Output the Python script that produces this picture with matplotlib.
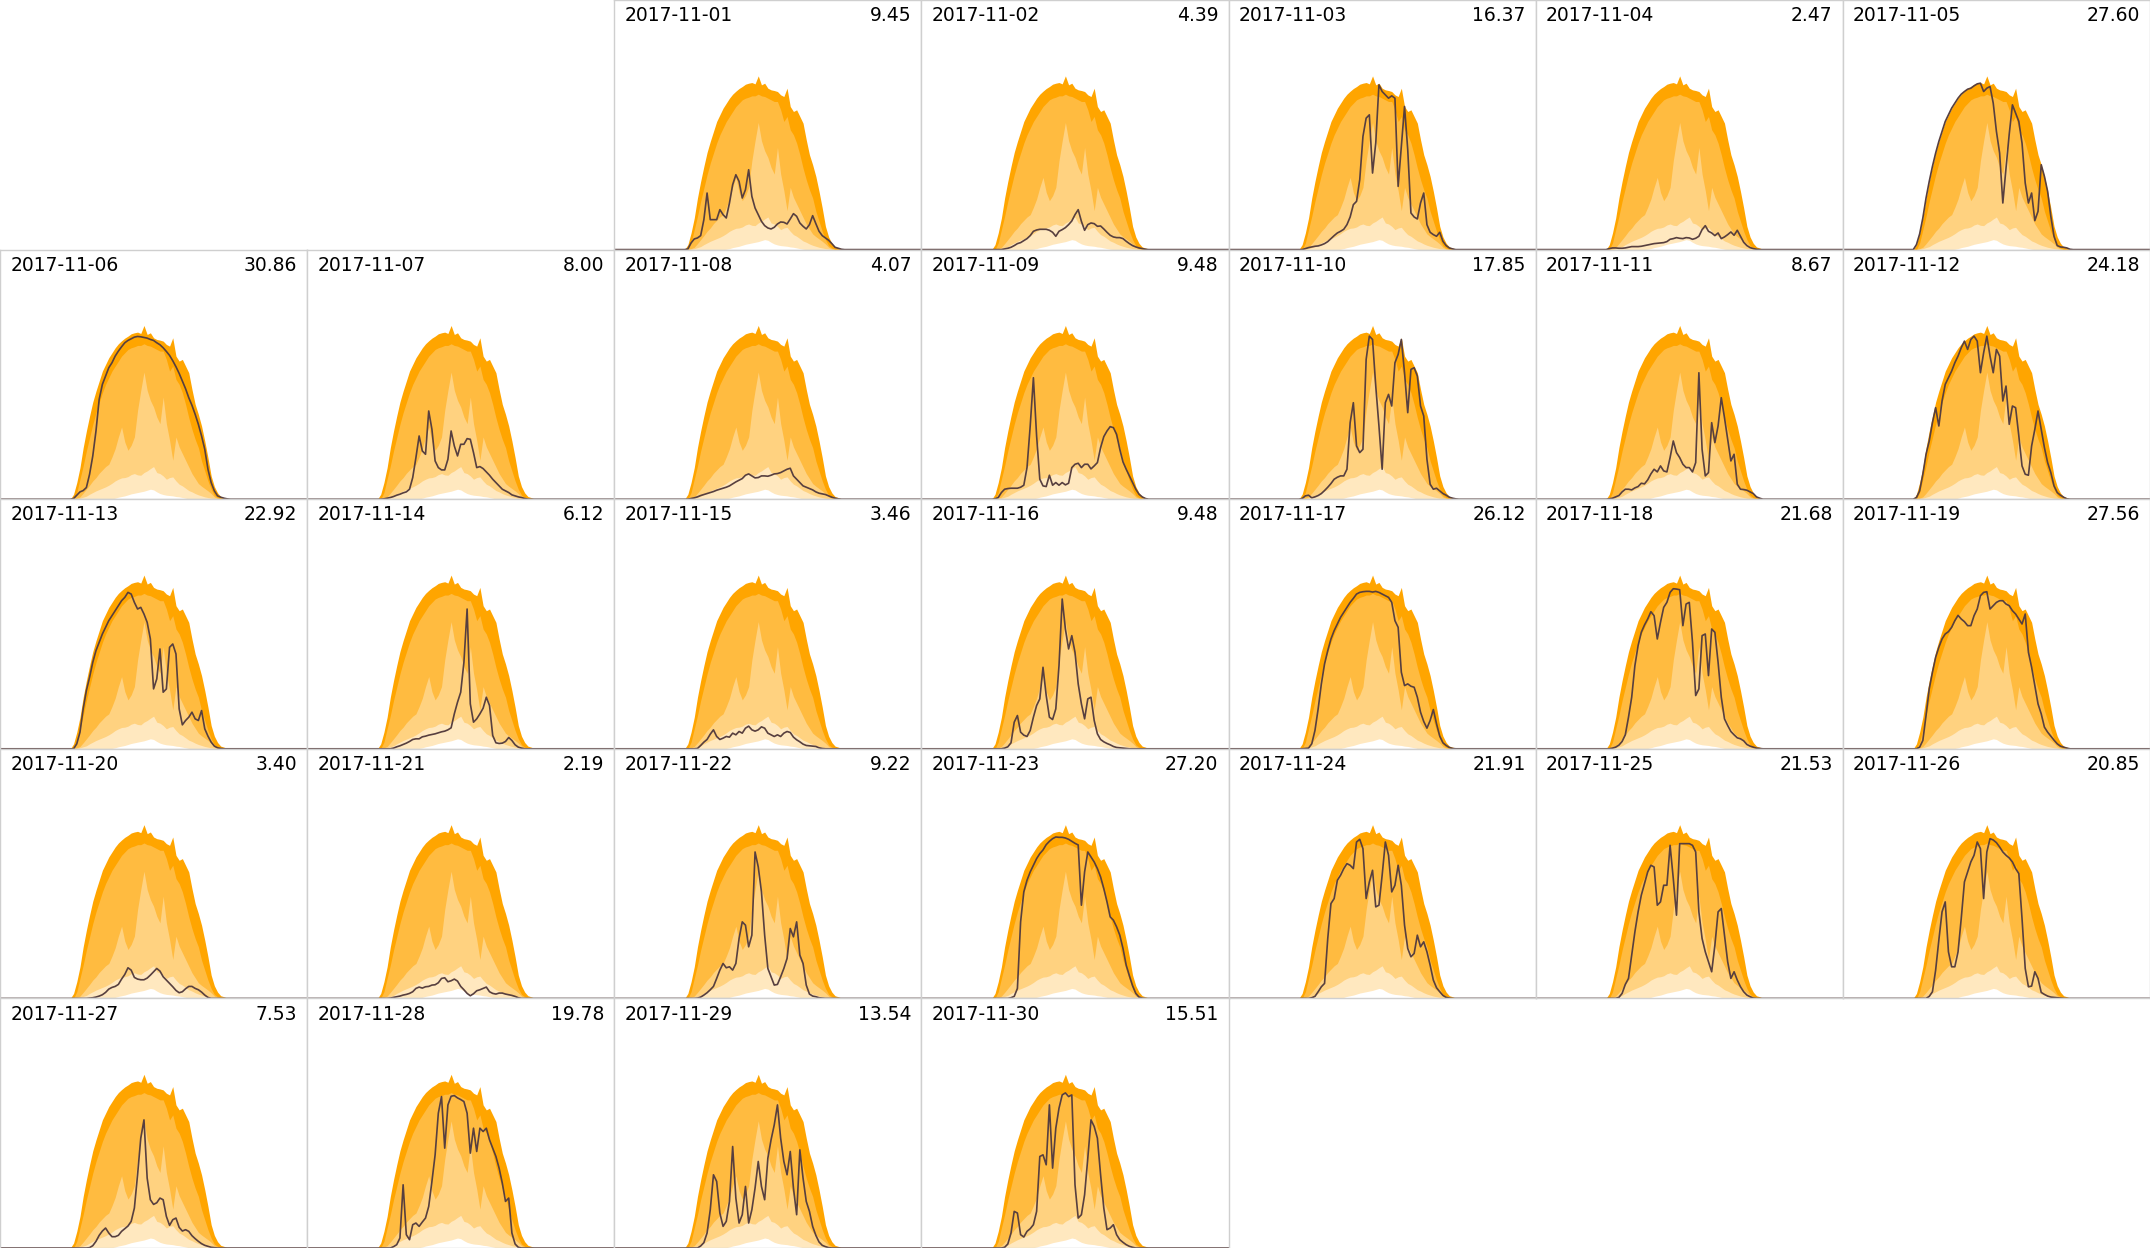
import datetime as dt
import numpy as np
import matplotlib
matplotlib.use("Agg")
import matplotlib.pyplot as plt

# sample times (hour of day) for the profiles, 15 min apart
hours = np.arange(5.5, 18.01, 0.25)

# envelope of all November days (kW): max and quantiles
band_max = [0, 0.15, 0.50, 0.95, 1.55, 2.05, 2.50, 2.92, 3.25, 3.55, 3.85, 4.05,
            4.25, 4.40, 4.55, 4.67, 4.76, 4.84, 4.90, 4.97, 5.00, 5.02, 4.98, 5.22,
            4.95, 5.00, 4.85, 4.80, 4.78, 4.75, 4.65, 4.60, 4.85, 4.30, 4.15, 4.20,
            4.00, 3.80, 3.30, 2.85, 2.55, 2.20, 1.75, 1.25, 0.70, 0.38, 0.19, 0.08,
            0.05, 0.01, 0]
band_q75 = [0, 0, 0.20, 0.60, 1.00, 1.45, 1.85, 2.25, 2.60, 2.90, 3.20, 3.45,
            3.65, 3.85, 4.00, 4.15, 4.30, 4.40, 4.50, 4.55, 4.58, 4.62, 4.62, 4.67,
            4.62, 4.60, 4.55, 4.50, 4.45, 4.45, 4.20, 3.85, 4.00, 3.60, 3.45, 3.20,
            2.85, 2.45, 2.10, 1.80, 1.55, 1.15, 0.85, 0.55, 0.30, 0.12, 0.05, 0,
            0, 0, 0]
band_q50 = [0, 0, 0.03, 0.07, 0.18, 0.30, 0.42, 0.55, 0.65, 0.78, 0.88, 0.98,
            1.05, 1.27, 1.52, 1.87, 2.17, 1.72, 1.47, 1.62, 1.87, 2.67, 3.27, 3.82,
            3.27, 2.97, 2.77, 2.47, 2.27, 3.07, 2.27, 1.77, 1.17, 1.87, 1.57, 1.37,
            1.17, 0.97, 0.77, 0.62, 0.47, 0.39, 0.32, 0.25, 0.17, 0.07, 0.02, 0,
            0, 0, 0]
band_q25 = [0, 0, 0.01, 0.03, 0.06, 0.09, 0.15, 0.20, 0.25, 0.29, 0.33, 0.37,
            0.42, 0.48, 0.55, 0.60, 0.64, 0.65, 0.68, 0.74, 0.77, 0.73, 0.72, 0.80,
            0.85, 0.92, 0.98, 0.80, 0.77, 0.70, 0.60, 0.65, 0.67, 0.55, 0.45, 0.40,
            0.33, 0.26, 0.22, 0.17, 0.13, 0.10, 0.07, 0.05, 0.03, 0.02, 0, 0,
            0, 0, 0]
band_q05 = [0, 0, 0, 0, 0, 0, 0, 0, 0, 0, 0, 0,
            0, 0.01, 0.03, 0.06, 0.08, 0.10, 0.13, 0.16, 0.18, 0.20, 0.22, 0.24,
            0.27, 0.30, 0.28, 0.22, 0.17, 0.14, 0.12, 0.11, 0.10, 0.08, 0.07, 0.05,
            0.03, 0.01, 0, 0, 0, 0, 0, 0, 0, 0, 0, 0,
            0, 0, 0]

# daily production profiles (kW)
nov01 = [0, 0.02, 0.20, 0.32, 0.35, 0.42, 0.90, 1.70, 0.90, 0.90, 0.90, 1.20,
         1.05, 0.95, 1.40, 1.95, 2.25, 2.05, 1.55, 1.80, 2.40, 1.60, 1.25, 1.05,
         0.85, 0.72, 0.65, 0.62, 0.67, 0.77, 0.83, 0.82, 0.77, 0.92, 1.08, 1.00,
         0.80, 0.70, 0.62, 0.75, 1.02, 0.78, 0.55, 0.42, 0.35, 0.28, 0.18, 0.07,
         0.04, 0.01, 0]
nov02 = [0, 0, 0, 0, 0.02, 0.04, 0.07, 0.12, 0.18, 0.21, 0.27, 0.33,
         0.42, 0.55, 0.59, 0.61, 0.61, 0.61, 0.58, 0.52, 0.40, 0.55, 0.60, 0.66,
         0.75, 0.86, 1.05, 1.20, 0.85, 0.58, 0.75, 0.80, 0.78, 0.70, 0.71, 0.62,
         0.52, 0.43, 0.38, 0.36, 0.36, 0.33, 0.25, 0.18, 0.12, 0.08, 0.05, 0.03,
         0.01, 0, 0]
nov03 = [0, 0, 0.03, 0.06, 0.08, 0.10, 0.11, 0.14, 0.18, 0.24, 0.33, 0.42,
         0.50, 0.55, 0.61, 0.75, 0.98, 1.35, 1.45, 2.10, 3.40, 3.95, 4.05, 2.30,
         3.20, 4.95, 4.75, 4.65, 4.55, 4.62, 4.55, 1.90, 3.10, 4.30, 3.00, 1.10,
         0.98, 0.92, 1.40, 1.70, 0.75, 0.52, 0.45, 0.40, 0.52, 0.25, 0.12, 0.05,
         0.02, 0, 0]
nov04 = [0, 0.03, 0.05, 0.05, 0.04, 0.04, 0.05, 0.07, 0.09, 0.09, 0.09, 0.10,
         0.12, 0.14, 0.16, 0.18, 0.19, 0.20, 0.21, 0.24, 0.31, 0.33, 0.36, 0.34,
         0.33, 0.36, 0.35, 0.31, 0.34, 0.40, 0.60, 0.72, 0.55, 0.50, 0.42, 0.50,
         0.33, 0.38, 0.45, 0.53, 0.43, 0.58, 0.40, 0.22, 0.12, 0.06, 0.03, 0.01,
         0, 0, 0]
nov05 = [0, 0.15, 0.47, 0.95, 1.55, 2.05, 2.50, 2.90, 3.25, 3.55, 3.85, 4.05,
         4.25, 4.40, 4.55, 4.67, 4.75, 4.82, 4.85, 4.92, 4.98, 5.00, 4.75, 4.85,
         4.90, 4.40, 3.55, 2.90, 1.40, 2.45, 3.47, 4.35, 4.10, 3.85, 3.20, 2.00,
         1.40, 1.70, 0.87, 1.15, 2.55, 2.20, 1.75, 1.00, 0.40, 0.12, 0.08, 0.07,
         0.05, 0.01, 0]
nov06 = [0, 0.02, 0.12, 0.22, 0.26, 0.35, 0.75, 1.30, 2.05, 3.00, 3.45, 3.70,
         3.95, 4.10, 4.30, 4.45, 4.58, 4.70, 4.77, 4.82, 4.87, 4.89, 4.88, 4.86,
         4.84, 4.80, 4.77, 4.70, 4.64, 4.55, 4.44, 4.32, 4.16, 3.98, 3.78, 3.55,
         3.32, 3.05, 2.82, 2.55, 2.25, 1.90, 1.50, 0.90, 0.50, 0.25, 0.10, 0.06,
         0.03, 0.01, 0]
nov07 = [0, 0, 0.01, 0.03, 0.05, 0.08, 0.12, 0.15, 0.19, 0.22, 0.30, 0.65,
         1.25, 1.90, 1.45, 1.35, 2.65, 2.10, 1.15, 0.95, 0.88, 0.88, 1.20, 2.05,
         1.60, 1.30, 1.65, 1.65, 1.82, 1.80, 1.40, 0.95, 0.98, 0.92, 0.82, 0.72,
         0.60, 0.50, 0.40, 0.30, 0.25, 0.20, 0.13, 0.10, 0.07, 0.05, 0.02, 0,
         0, 0, 0]
nov08 = [0, 0, 0.02, 0.04, 0.07, 0.11, 0.14, 0.17, 0.20, 0.23, 0.27, 0.30,
         0.33, 0.36, 0.40, 0.46, 0.52, 0.57, 0.62, 0.72, 0.76, 0.70, 0.64, 0.65,
         0.70, 0.70, 0.69, 0.72, 0.76, 0.77, 0.80, 0.85, 0.90, 0.93, 0.70, 0.60,
         0.50, 0.40, 0.36, 0.32, 0.28, 0.22, 0.18, 0.16, 0.14, 0.10, 0.06, 0.03,
         0.01, 0, 0]
nov09 = [0, 0.01, 0.05, 0.20, 0.30, 0.32, 0.33, 0.33, 0.33, 0.36, 0.42, 0.95,
         2.20, 3.65, 1.90, 0.60, 0.40, 0.38, 0.72, 0.42, 0.50, 0.42, 0.50, 0.43,
         0.48, 0.95, 1.05, 1.08, 0.95, 1.05, 1.05, 0.91, 1.00, 1.10, 1.55, 1.88,
         2.05, 2.18, 2.15, 1.95, 1.50, 1.12, 0.90, 0.70, 0.50, 0.30, 0.15, 0.07,
         0.02, 0, 0]
nov10 = [0, 0.02, 0.10, 0.12, 0.04, 0.07, 0.11, 0.17, 0.26, 0.36, 0.47, 0.60,
         0.66, 0.70, 0.70, 0.90, 2.30, 2.90, 1.60, 1.40, 1.50, 4.20, 4.90, 4.80,
         3.40, 2.20, 0.90, 2.90, 3.15, 2.80, 4.10, 4.35, 4.80, 3.80, 2.60, 3.90,
         3.95, 3.70, 2.80, 2.50, 1.20, 0.45, 0.30, 0.33, 0.25, 0.17, 0.12, 0.06,
         0.03, 0.01, 0]
nov11 = [0, 0.01, 0.03, 0.07, 0.11, 0.22, 0.30, 0.30, 0.28, 0.34, 0.38, 0.48,
         0.46, 0.58, 0.76, 0.90, 0.82, 1.00, 0.85, 0.82, 1.25, 1.75, 1.40, 1.25,
         1.05, 0.95, 0.95, 0.82, 1.10, 3.80, 1.50, 0.70, 0.80, 2.30, 1.70, 2.20,
         3.05, 2.45, 1.80, 1.15, 1.35, 0.45, 0.30, 0.29, 0.27, 0.22, 0.17, 0.07,
         0.03, 0, 0]
nov12 = [0, 0.05, 0.25, 0.75, 1.35, 1.75, 2.30, 2.75, 2.20, 2.95, 3.45, 3.65,
         3.85, 4.10, 4.30, 4.55, 4.75, 4.50, 4.80, 4.90, 4.75, 3.80, 4.40, 4.90,
         4.30, 3.80, 4.50, 4.30, 2.95, 3.40, 2.25, 2.80, 2.75, 1.90, 1.00, 0.75,
         0.72, 1.60, 2.10, 2.65, 2.10, 1.55, 1.10, 0.80, 0.40, 0.20, 0.12, 0.06,
         0.01, 0, 0]
nov13 = [0, 0, 0.15, 0.50, 1.20, 1.75, 2.15, 2.60, 2.95, 3.20, 3.45, 3.65,
         3.85, 4.00, 4.15, 4.30, 4.45, 4.55, 4.70, 4.65, 4.40, 4.20, 4.25, 4.05,
         3.80, 3.30, 1.80, 2.10, 3.00, 1.70, 1.80, 3.05, 3.15, 2.85, 1.20, 0.72,
         0.85, 0.95, 1.10, 0.90, 0.85, 1.15, 0.60, 0.38, 0.20, 0.08, 0.03, 0.01,
         0, 0, 0]
nov14 = [0, 0, 0, 0, 0, 0.02, 0.06, 0.09, 0.13, 0.17, 0.22, 0.28,
         0.30, 0.30, 0.36, 0.38, 0.41, 0.43, 0.45, 0.48, 0.51, 0.53, 0.57, 0.63,
         1.05, 1.40, 1.70, 2.60, 4.20, 1.35, 0.80, 0.90, 1.05, 1.22, 1.55, 1.30,
         0.40, 0.18, 0.16, 0.17, 0.22, 0.34, 0.25, 0.12, 0.05, 0.02, 0, 0,
         0, 0, 0]
nov15 = [0, 0, 0, 0, 0.01, 0.10, 0.20, 0.28, 0.44, 0.57, 0.37, 0.28,
         0.32, 0.37, 0.35, 0.47, 0.42, 0.52, 0.47, 0.62, 0.68, 0.57, 0.53, 0.57,
         0.66, 0.62, 0.47, 0.42, 0.37, 0.42, 0.37, 0.47, 0.52, 0.49, 0.35, 0.27,
         0.21, 0.14, 0.10, 0.09, 0.08, 0.07, 0.03, 0.01, 0, 0, 0, 0,
         0, 0, 0]
nov16 = [0, 0, 0, 0, 0.02, 0.06, 0.18, 0.80, 1.00, 0.50, 0.41, 0.37,
         0.55, 0.95, 1.30, 1.50, 2.45, 1.60, 0.95, 0.88, 1.20, 2.50, 4.50, 3.60,
         3.00, 3.40, 2.90, 1.95, 1.35, 0.90, 1.50, 1.55, 0.85, 0.45, 0.28, 0.21,
         0.16, 0.12, 0.07, 0.04, 0.03, 0.02, 0.01, 0, 0, 0, 0, 0,
         0, 0, 0]
nov17 = [0, 0, 0.01, 0.02, 0.15, 0.55, 1.20, 1.95, 2.55, 2.95, 3.30, 3.55,
         3.75, 3.95, 4.10, 4.25, 4.40, 4.52, 4.65, 4.70, 4.72, 4.73, 4.73, 4.71,
         4.73, 4.70, 4.65, 4.60, 4.55, 4.40, 3.85, 3.65, 2.30, 1.90, 1.95, 1.88,
         1.85, 1.55, 1.10, 0.82, 0.62, 0.85, 1.18, 0.75, 0.38, 0.18, 0.10, 0.04,
         0.01, 0, 0]
nov18 = [0, 0, 0.02, 0.05, 0.11, 0.22, 0.42, 0.95, 1.55, 2.50, 3.10, 3.50,
         3.72, 3.90, 4.12, 4.00, 3.30, 3.80, 4.25, 4.40, 4.70, 4.81, 4.80, 4.78,
         3.70, 4.35, 4.40, 3.20, 1.60, 1.80, 3.40, 3.45, 2.20, 3.60, 3.50, 2.60,
         1.55, 0.90, 0.70, 0.52, 0.42, 0.33, 0.30, 0.24, 0.13, 0.08, 0.05, 0.02,
         0.01, 0, 0]
nov19 = [0, 0, 0.05, 0.25, 1.00, 1.80, 2.30, 2.75, 3.05, 3.30, 3.45, 3.52,
         3.65, 3.85, 4.01, 3.90, 3.82, 3.70, 3.70, 4.00, 4.20, 4.60, 4.70, 4.72,
         4.20, 4.30, 4.40, 4.45, 4.45, 4.35, 4.30, 4.15, 4.05, 3.90, 3.75, 4.05,
         2.90, 2.45, 1.90, 1.35, 1.05, 0.65, 0.50, 0.38, 0.26, 0.15, 0.08, 0.05,
         0.02, 0, 0]
nov20 = [0, 0, 0, 0, 0, 0, 0.01, 0.02, 0.04, 0.07, 0.11, 0.18,
         0.28, 0.33, 0.36, 0.42, 0.58, 0.72, 0.92, 0.85, 0.63, 0.58, 0.56, 0.56,
         0.61, 0.70, 0.80, 0.90, 0.82, 0.65, 0.55, 0.45, 0.35, 0.24, 0.17, 0.20,
         0.29, 0.36, 0.36, 0.30, 0.26, 0.19, 0.10, 0.03, 0, 0, 0, 0,
         0, 0, 0]
nov21 = [0, 0, 0, 0, 0.01, 0.03, 0.05, 0.07, 0.10, 0.12, 0.15, 0.20,
         0.30, 0.34, 0.31, 0.35, 0.36, 0.40, 0.41, 0.47, 0.60, 0.62, 0.50, 0.53,
         0.58, 0.52, 0.36, 0.26, 0.15, 0.08, 0.14, 0.23, 0.26, 0.30, 0.34, 0.20,
         0.15, 0.13, 0.16, 0.16, 0.13, 0.11, 0.09, 0.06, 0.02, 0, 0, 0,
         0, 0, 0]
nov22 = [0, 0, 0, 0, 0.01, 0.04, 0.10, 0.17, 0.26, 0.36, 0.60, 0.85,
         1.05, 0.92, 0.95, 0.85, 1.05, 1.80, 2.30, 2.20, 1.55, 1.90, 4.40, 3.95,
         3.20, 1.90, 0.90, 0.65, 0.40, 0.42, 0.65, 0.90, 1.20, 2.10, 1.85, 2.30,
         1.30, 1.05, 0.40, 0.13, 0.07, 0.05, 0.02, 0.01, 0, 0, 0, 0,
         0, 0, 0]
nov23 = [0, 0, 0, 0, 0, 0, 0.02, 0.06, 0.30, 2.30, 3.20, 3.55,
         3.80, 4.00, 4.20, 4.35, 4.46, 4.62, 4.72, 4.80, 4.85, 4.84, 4.84, 4.82,
         4.78, 4.72, 4.66, 4.61, 2.80, 3.80, 4.40, 4.25, 4.10, 3.90, 3.65, 3.30,
         2.90, 2.45, 2.35, 2.15, 1.90, 1.50, 1.00, 0.68, 0.38, 0.15, 0.04, 0.01,
         0, 0, 0]
nov24 = [0, 0, 0, 0, 0.02, 0.06, 0.20, 0.35, 0.45, 1.80, 2.85, 3.00,
         3.55, 3.70, 3.90, 4.05, 4.00, 3.90, 4.70, 4.78, 4.50, 3.00, 3.50, 3.85,
         2.75, 2.80, 3.70, 4.70, 4.30, 3.20, 3.40, 4.00, 3.40, 2.20, 1.50, 1.25,
         1.35, 1.90, 1.55, 1.70, 1.40, 1.00, 0.55, 0.32, 0.20, 0.09, 0.03, 0.01,
         0, 0, 0]
nov25 = [0, 0, 0, 0, 0.03, 0.15, 0.42, 0.60, 1.30, 2.00, 2.60, 3.10,
         3.45, 3.80, 4.00, 3.95, 2.80, 2.90, 3.40, 3.40, 4.60, 3.60, 2.50, 4.65,
         4.65, 4.65, 4.65, 4.60, 4.40, 2.60, 1.80, 1.40, 1.10, 0.80, 1.60, 2.60,
         2.70, 1.90, 1.10, 0.60, 0.80, 0.55, 0.35, 0.20, 0.10, 0.05, 0.01, 0,
         0, 0, 0]
nov26 = [0, 0, 0, 0, 0, 0.06, 0.20, 0.85, 1.75, 2.60, 2.90, 1.40,
         0.95, 0.95, 1.40, 2.40, 3.50, 3.80, 4.10, 4.30, 4.70, 4.50, 3.00, 4.40,
         4.80, 4.76, 4.68, 4.55, 4.40, 4.30, 4.22, 4.10, 3.90, 3.75, 2.40, 0.90,
         0.35, 0.37, 0.80, 0.60, 0.18, 0.12, 0.07, 0.04, 0.03, 0.02, 0.01, 0,
         0, 0, 0]
nov27 = [0, 0, 0, 0, 0, 0, 0.01, 0.07, 0.20, 0.38, 0.51, 0.60,
         0.45, 0.34, 0.34, 0.38, 0.50, 0.58, 0.66, 0.80, 1.20, 2.20, 3.30, 3.85,
         2.10, 1.45, 1.31, 1.36, 1.50, 1.45, 0.95, 0.68, 0.85, 0.90, 0.62, 0.51,
         0.55, 0.50, 0.37, 0.28, 0.20, 0.13, 0.08, 0.05, 0.02, 0.01, 0, 0,
         0, 0, 0]
nov28 = [0, 0, 0, 0, 0, 0.04, 0.10, 0.30, 1.90, 0.40, 0.25, 0.70,
         0.75, 0.65, 0.78, 0.90, 1.25, 2.00, 2.80, 4.05, 4.55, 3.00, 4.30, 4.56,
         4.58, 4.51, 4.46, 4.40, 4.05, 2.85, 3.60, 2.90, 3.60, 3.50, 3.60, 3.25,
         3.00, 2.75, 2.40, 1.95, 1.40, 1.50, 0.45, 0.12, 0.02, 0, 0, 0,
         0, 0, 0]
nov29 = [0, 0, 0, 0, 0, 0.06, 0.16, 0.45, 1.15, 2.20, 2.00, 1.05,
         0.65, 0.80, 1.40, 3.05, 1.50, 0.75, 1.00, 1.85, 0.75, 1.15, 1.80, 2.60,
         1.85, 1.45, 2.70, 3.25, 3.70, 4.30, 3.30, 2.60, 2.20, 2.90, 1.80, 1.00,
         2.95, 2.10, 1.40, 1.10, 0.65, 0.38, 0.18, 0.08, 0.04, 0.01, 0, 0,
         0, 0, 0]
nov30 = [0, 0, 0, 0, 0.02, 0.12, 0.45, 1.10, 1.05, 0.40, 0.33, 0.50,
         0.58, 0.70, 1.10, 2.75, 2.80, 2.50, 4.30, 2.40, 3.60, 4.20, 4.60, 4.66,
         4.55, 4.60, 1.90, 0.90, 1.00, 1.60, 2.70, 3.85, 3.65, 3.30, 2.20, 1.20,
         0.55, 0.60, 0.70, 0.40, 0.25, 0.17, 0.10, 0.05, 0.02, 0, 0, 0,
         0, 0, 0]

profiles = [nov01, nov02, nov03, nov04, nov05, nov06, nov07, nov08, nov09, nov10,
            nov11, nov12, nov13, nov14, nov15, nov16, nov17, nov18, nov19, nov20,
            nov21, nov22, nov23, nov24, nov25, nov26, nov27, nov28, nov29, nov30]

# daily energy (kWh)
totals = [9.45, 4.39, 16.37, 2.47, 27.60, 30.86, 8.00, 4.07, 9.48, 17.85,
          8.67, 24.18, 22.92, 6.12, 3.46, 9.48, 26.12, 21.68, 27.56, 3.40,
          2.19, 9.22, 27.20, 21.91, 21.53, 20.85, 7.53, 19.78, 13.54, 15.51]

first_day = dt.date(2017, 11, 1)

# pad with night-time zeros so the line spans the whole day
x = np.concatenate([[0], hours, [24]])
def pad(v):
    return np.concatenate([[0], np.asarray(v, float), [0]])

bands = [(band_max, '#FFA500'), (band_q75, '#FFBB40'), (band_q50, '#FFD280'),
         (band_q25, '#FFE8BF'), (band_q05, '#FFFFFF')]

fig = plt.figure(figsize=(21.5, 12.48), dpi=100)
gs = fig.add_gridspec(5, 7, left=0, right=1, bottom=0, top=1, wspace=0, hspace=0)

offset = first_day.weekday()  # monday first
for i, (prof, tot) in enumerate(zip(profiles, totals)):
    day = first_day + dt.timedelta(days=i)
    k = i + offset
    ax = fig.add_subplot(gs[k // 7, k % 7])
    for vals, col in bands:
        ax.fill_between(x, pad(vals), 0, color=col, lw=0)
    ax.plot(x, pad(prof), color='#573f3f', lw=1.2)
    ax.set_xlim(0, 24)
    ax.set_ylim(0, 7.5)
    ax.set_xticks([])
    ax.set_yticks([])
    for s in ax.spines.values():
        s.set_color('#cfcfcf')
        s.set_linewidth(1.0)
    ax.text(0.033, 0.975, day.isoformat(), transform=ax.transAxes,
            ha='left', va='top', fontsize=13.5)
    ax.text(0.967, 0.975, f"{tot:.2f}", transform=ax.transAxes,
            ha='right', va='top', fontsize=13.5)

fig.savefig('out.png', dpi=100)
